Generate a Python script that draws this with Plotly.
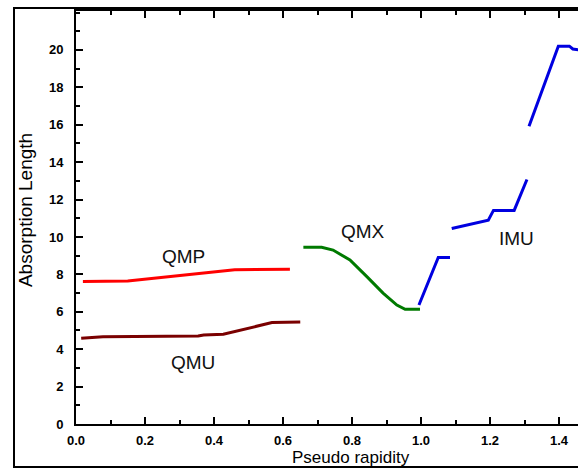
import plotly.graph_objects as go

# Absorption length versus pseudo rapidity for the muon subsystems
qmp_eta = [0.02, 0.15, 0.46, 0.62]
qmp_len = [7.62, 7.64, 8.25, 8.28]

qmu_eta = [0.015, 0.078, 0.354, 0.37, 0.427, 0.50, 0.568, 0.65]
qmu_len = [4.58, 4.67, 4.70, 4.76, 4.80, 5.10, 5.42, 5.45]

qmx_eta = [0.659, 0.712, 0.745, 0.794, 0.843, 0.89, 0.93, 0.954, 0.997]
qmx_len = [9.45, 9.45, 9.30, 8.77, 7.88, 7.00, 6.36, 6.13, 6.13]

# IMU is drawn as three separate pieces (None breaks the line)
imu_eta = [0.994, 1.05, 1.084, None,
           1.089, 1.195, 1.21, 1.27, 1.307, None,
           1.313, 1.398, 1.43, 1.44, 1.46]
imu_len = [6.36, 8.9, 8.9, None,
           10.45, 10.9, 11.42, 11.42, 13.07, None,
           15.92, 20.2, 20.2, 20.05, 20.0]

labels = ["QMP", "QMU", "QMX", "IMU"]
label_eta = [0.313, 0.338, 0.832, 1.278]
label_len = [8.93, 3.28, 10.28, 9.93]

x_ticks = [0.0, 0.2, 0.4, 0.6, 0.8, 1.0, 1.2, 1.4]
y_ticks = [0, 2, 4, 6, 8, 10, 12, 14, 16, 18, 20]

fig = go.Figure()
for xs, ys, col in [
    (qmp_eta, qmp_len, "#ff0000"),
    (qmu_eta, qmu_len, "#7a0000"),
    (qmx_eta, qmx_len, "#007a00"),
    (imu_eta, imu_len, "#0000e0"),
]:
    fig.add_trace(go.Scatter(x=xs, y=ys, mode="lines",
                             line=dict(color=col, width=3),
                             connectgaps=False, showlegend=False))

for txt, xv, yv in zip(labels, label_eta, label_len):
    fig.add_annotation(x=xv, y=yv, text=txt, showarrow=False,
                       font=dict(family="Liberation Sans, Arial", size=19, color="#111"))

tick_font = dict(family="Liberation Sans, Arial", size=13, color="#000", weight="bold")

fig.update_xaxes(
    range=[0, 1.455], tickvals=x_ticks,
    ticktext=[f"{v:.1f}" for v in x_ticks],
    ticks="inside", ticklen=7, tickwidth=2, tickcolor="#000",
    showline=True, linewidth=2, linecolor="#000", mirror="ticks",
    showgrid=False, zeroline=False, tickfont=tick_font,
    ticklabelstandoff=3,
    minor=dict(dtick=0.1, tick0=0, ticks="inside", ticklen=4, tickwidth=2,
               tickcolor="#000", showgrid=False),
)
fig.update_yaxes(
    range=[0, 22.08], tickvals=y_ticks,
    ticks="inside", ticklen=7, tickwidth=2, tickcolor="#000",
    showline=True, linewidth=2, linecolor="#000", mirror=False,
    showgrid=False, zeroline=False, tickfont=tick_font,
    ticklabelstandoff=8,
    minor=dict(dtick=1, tick0=0, ticks="inside", ticklen=4, tickwidth=2,
               tickcolor="#000", showgrid=False),
)

# axis titles
fig.add_annotation(xref="paper", yref="paper", x=-0.1016, y=0.518,
                   text="Absorption Length", textangle=-90, showarrow=False,
                   xanchor="center", yanchor="middle",
                   font=dict(family="Liberation Sans, Arial", size=19, color="#000"))
fig.add_annotation(xref="paper", yref="paper", x=0.548, y=-0.1065,
                   text="Pseudo rapidity", showarrow=False,
                   xanchor="center", yanchor="bottom", borderpad=0,
                   font=dict(family="Liberation Sans, Arial", size=17, color="#000"))

# outer frame around the whole figure
fig.add_shape(type="rect", xref="paper", yref="paper",
              x0=-0.1235, x1=1.2, y0=-0.104, y1=1.0073,
              line=dict(color="#000", width=2), layer="below")

fig.update_layout(
    width=578, height=469,
    margin=dict(l=76, r=0, t=11, b=45),
    paper_bgcolor="white", plot_bgcolor="white",
)

fig.write_html("out.html")
